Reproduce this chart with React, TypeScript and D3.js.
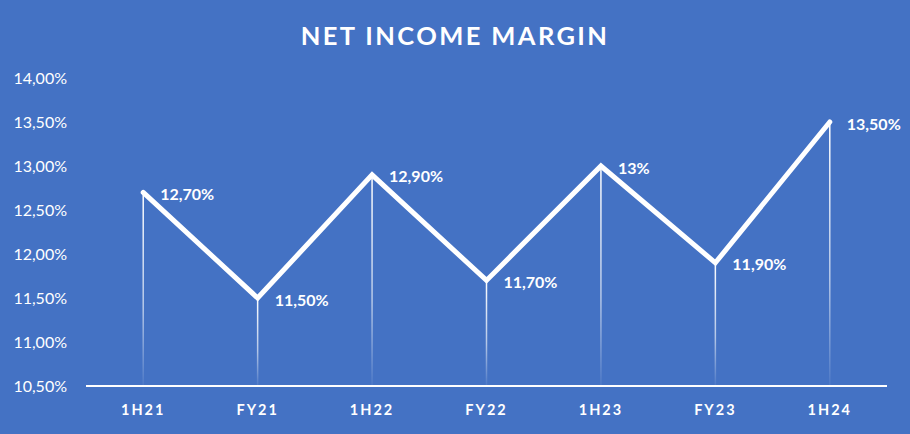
import React from "react";
import * as d3 from "d3";

const categories = ["1H21", "FY21", "1H22", "FY22", "1H23", "FY23", "1H24"];
const values = [12.7, 11.5, 12.9, 11.7, 13.0, 11.9, 13.5];
const valueLabels = ["12,70%", "11,50%", "12,90%", "11,70%", "13%", "11,90%", "13,50%"];
const yTicks = [10.5, 11.0, 11.5, 12.0, 12.5, 13.0, 13.5, 14.0];
const title = "NET INCOME MARGIN";

const W = 910;
const H = 434;
const BG = "#4472C4";
const FONT = "Lato, 'Open Sans', sans-serif";

export default function App() {
  const x = d3.scaleBand<string>().domain(categories).range([86, 887]);
  const y = d3.scaleLinear().domain([10.5, 14]).range([386, 78]);
  const fmt = (v: number) => v.toFixed(2).replace(".", ",") + "%";
  const cx = (c: string) => (x(c) as number) + x.bandwidth() / 2;
  const line = d3
    .line<number>()
    .x((_, i) => cx(categories[i]))
    .y((d) => y(d));

  return (
    <svg
      width={W}
      height={H}
      style={{ position: "fixed", left: 0, top: 0, display: "block" }}
    >
      <defs>
        <linearGradient id="drop" x1="0" y1="0" x2="0" y2="1">
          <stop offset="0%" stopColor="#ffffff" stopOpacity={1} />
          <stop offset="60%" stopColor="#ffffff" stopOpacity={0.6} />
          <stop offset="100%" stopColor="#ffffff" stopOpacity={0.05} />
        </linearGradient>
      </defs>
      <rect x={0} y={0} width={W} height={H} fill={BG} />
      <text
        x={W / 2}
        y={45}
        textAnchor="middle"
        fill="#fff"
        fontFamily={FONT}
        fontWeight={700}
        fontSize={25.5}
        letterSpacing={2.4}
      >
        {title}
      </text>
      {yTicks.map((t) => (
        <text
          key={t}
          x={67}
          y={y(t) + 5.5}
          textAnchor="end"
          fill="#fff"
          fontFamily={FONT}
          fontSize={16}
        >
          {fmt(t)}
        </text>
      ))}
      {values.map((v, i) => (
        <rect
          key={"d" + i}
          x={cx(categories[i]) - 0.75}
          y={y(v)}
          width={1.5}
          height={y(10.5) - y(v)}
          fill="url(#drop)"
        />
      ))}
      <line x1={86} x2={887} y1={y(10.5)} y2={y(10.5)} stroke="#fff" strokeWidth={2} />
      <path
        d={line(values) || ""}
        fill="none"
        stroke="#fff"
        strokeWidth={5}
        strokeLinejoin="miter"
        strokeLinecap="round"
      />
      {values.map((v, i) => (
        <text
          key={"l" + i}
          x={cx(categories[i]) + 17}
          y={y(v) + 7.5}
          fill="#fff"
          fontFamily={FONT}
          fontWeight={700}
          fontSize={16}
        >
          {valueLabels[i]}
        </text>
      ))}
      {categories.map((c) => (
        <text
          key={c}
          x={cx(c)}
          y={415}
          textAnchor="middle"
          fill="#fff"
          fontFamily={FONT}
          fontWeight={700}
          fontSize={14.5}
          letterSpacing={2}
        >
          {c}
        </text>
      ))}
    </svg>
  );
}
